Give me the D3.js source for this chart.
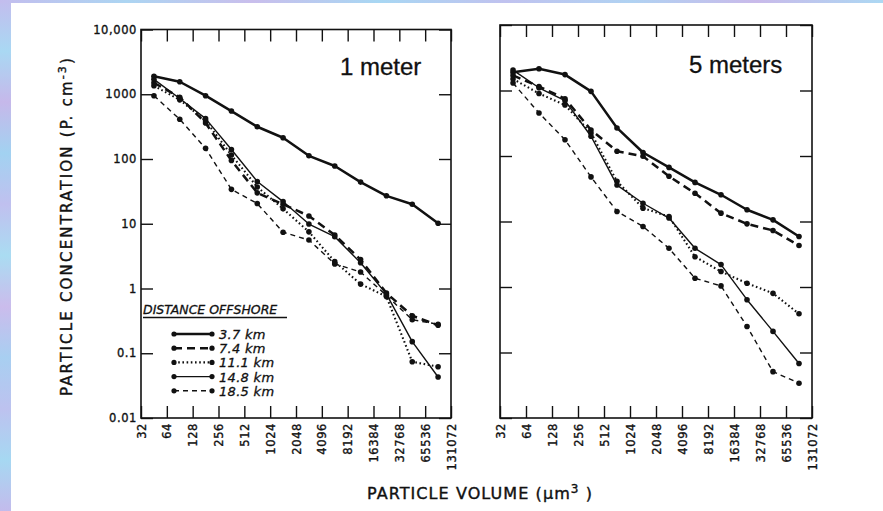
<!DOCTYPE html>
<html>
<head>
<meta charset="utf-8">
<script src="https://cdn.jsdelivr.net/npm/d3@7"></script>
<style>
  html, body { margin: 0; padding: 0; background: #fff; }
  svg { display: block; }
</style>
</head>
<body>
<svg id="chart" width="883" height="511"></svg>
<script>
// Size-class midpoints (µm³) at which concentrations were measured
const volumeBins = [45.3, 90.5, 181, 362, 724, 1448, 2896, 5793, 11585, 23170, 46341, 92682];

// Axis ticks
const volumeTicks = [32, 64, 128, 256, 512, 1024, 2048, 4096, 8192, 16384, 32768, 65536, 131072];
const volumeLabels = ["32", "64", "128", "256", "512", "1024", "2048", "4096", "8192", "16384", "32768", "65536", "131072"];
const concTicks = [0.01, 0.1, 1, 10, 100, 1000, 10000];
const concLabels = ["0.01", "0.1", "1", "10", "100", "1000", "10,000"];

// Stations, by distance offshore
const distances = ["3.7 km", "7.4 km", "11.1 km", "14.8 km", "18.5 km"];

// Particle concentration (P. cm^-3) at 1 meter depth
const oneM_3_7  = [1900, 1560, 950, 550, 315, 213, 112, 78, 44, 27, 20, 10.2];
const oneM_7_4  = [1500, 900, 360, 95, 30, 20, 13.2, 6.7, 2.8, 0.85, 0.38, 0.27];
const oneM_11_1 = [1350, 820, 390, 115, 37, 17, 7.5, 2.6, 1.17, 0.75, 0.074, 0.062];
const oneM_14_8 = [1700, 860, 420, 140, 45, 22, 9.9, 6.3, 2.5, 0.82, 0.151, 0.043];
const oneM_18_5 = [950, 410, 146, 34, 20.5, 7.4, 5.6, 2.4, 1.8, 0.78, 0.33, 0.28];

// Particle concentration (P. cm^-3) at 5 meters depth
const fiveM_3_7  = [1900, 2150, 1750, 970, 268, 113, 67, 39.5, 25.6, 15.1, 10.6, 5.9];
const fiveM_7_4  = [1700, 1150, 750, 250, 118, 99, 49, 27, 13.4, 9.2, 7.3, 4.3];
const fiveM_11_1 = [1500, 900, 600, 225, 41, 16, 11.9, 2.9, 1.72, 1.14, 0.8, 0.39];
const fiveM_14_8 = [2050, 1100, 700, 200, 36, 19, 11.3, 3.9, 2.2, 0.64, 0.21, 0.068];
const fiveM_18_5 = [1300, 454, 177, 48, 14.2, 8.4, 3.9, 1.36, 1.04, 0.25, 0.051, 0.034];

// Line style for each station
const lineStyles = [
  { width: 2.5, dash: null },
  { width: 2.5, dash: "8,5" },
  { width: 2.1, dash: "1.6,2.6" },
  { width: 1.4, dash: null },
  { width: 1.4, dash: "5,4" }
];

const ink = "#111";
const tickFont = "'DejaVu Sans', sans-serif";

const svg = d3.select("#chart");
const defs = svg.append("defs");

// Mottled slide border along the left and top edges
function edgeGradient(id, vertical, stops) {
  const lg = defs.append("linearGradient").attr("id", id)
    .attr("x1", 0).attr("y1", 0).attr("x2", vertical ? 0 : 1).attr("y2", vertical ? 1 : 0);
  stops.forEach((c, i) => lg.append("stop").attr("offset", i / (stops.length - 1)).attr("stop-color", c));
}
edgeGradient("edgeV", true, ["#c3bdee", "#a9d8f3", "#c6b8ea", "#a2d2f1", "#c0c0ef", "#aadcf2", "#cbbcec", "#a8cff1", "#bdc2ef", "#a6d8f2", "#c3bbec"]);
edgeGradient("edgeH", false, ["#c3bdee", "#acd5f2", "#c9beec", "#a8d7f3", "#c0c2ef", "#b0d2f2", "#c9baea", "#acd8f3"]);
svg.append("rect").attr("x", 0).attr("y", 0).attr("width", 883).attr("height", 511).attr("fill", "#fff");
svg.append("rect").attr("x", 0).attr("y", 0).attr("width", 11).attr("height", 511).attr("fill", "url(#edgeV)");
svg.append("rect").attr("x", 0).attr("y", 0).attr("width", 883).attr("height", 3).attr("fill", "url(#edgeH)");

function drawPanel(p) {
  const x = d3.scaleLog().base(2).domain([32, 131072]).range([p.x0, p.x1]);
  const y = d3.scaleLog().domain([0.01, 10000]).range([p.y1, p.y0]);
  const g = svg.append("g");

  const styleAxis = sel => {
    sel.select(".domain").remove();
    sel.selectAll(".tick line").attr("stroke", ink).attr("stroke-width", 1.4);
    sel.selectAll("text").attr("fill", ink).attr("font-family", tickFont)
      .attr("font-size", 11.5).attr("stroke", ink).attr("stroke-width", 0.35)
      .style("letter-spacing", "0.6px");
  };

  const bottom = g.append("g").attr("transform", `translate(0,${p.y1})`)
    .call(d3.axisBottom(x).tickValues(volumeTicks).tickSize(-12).tickSizeOuter(0)
      .tickFormat((d, i) => volumeLabels[i]));
  styleAxis(bottom);
  bottom.selectAll("text")
    .attr("transform", "rotate(-90)")
    .attr("x", -5).attr("y", 0).attr("dy", "0.36em")
    .attr("text-anchor", "end");

  const top = g.append("g").attr("transform", `translate(0,${p.y0})`)
    .call(d3.axisTop(x).tickValues(volumeTicks).tickSize(-12).tickSizeOuter(0).tickFormat(""));
  styleAxis(top);

  const left = g.append("g").attr("transform", `translate(${p.x0},0)`)
    .call(d3.axisLeft(y).tickValues(concTicks).tickSize(-12).tickSizeOuter(0).tickPadding(4)
      .tickFormat((d, i) => p.yLabels ? concLabels[i] : ""));
  styleAxis(left);

  const right = g.append("g").attr("transform", `translate(${p.x1},0)`)
    .call(d3.axisRight(y).tickValues(concTicks).tickSize(-12).tickSizeOuter(0).tickFormat(""));
  styleAxis(right);

  g.append("rect")
    .attr("x", p.x0).attr("y", p.y0)
    .attr("width", p.x1 - p.x0).attr("height", p.y1 - p.y0)
    .attr("fill", "none").attr("stroke", ink).attr("stroke-width", 1.6);

  const line = d3.line().x(d => x(d[0])).y(d => y(d[1]));
  p.series.forEach((vals, si) => {
    const st = lineStyles[si];
    const pts = volumeBins.map((v, i) => [v, vals[i]]);
    g.append("path").datum(pts)
      .attr("d", line)
      .attr("fill", "none").attr("stroke", ink)
      .attr("stroke-width", st.width)
      .attr("stroke-dasharray", st.dash)
      .attr("stroke-linejoin", "round");
    g.selectAll(null).data(pts).enter().append("circle")
      .attr("cx", d => x(d[0])).attr("cy", d => y(d[1]))
      .attr("r", 2.8).attr("fill", ink);
  });

  g.append("text")
    .attr("x", p.titleX).attr("y", p.titleY)
    .attr("font-family", "'Liberation Sans', Arial, sans-serif")
    .attr("font-size", 24).attr("fill", ink)
    .attr("stroke", ink).attr("stroke-width", 0.3)
    .text(p.title);

  return { x, y, g };
}

drawPanel({
  x0: 141, x1: 451, y0: 29.5, y1: 418, yLabels: true,
  series: [oneM_3_7, oneM_7_4, oneM_11_1, oneM_14_8, oneM_18_5],
  title: "1 meter", titleX: 340, titleY: 75
});

drawPanel({
  x0: 500, x1: 812, y0: 25, y1: 418, yLabels: false,
  series: [fiveM_3_7, fiveM_7_4, fiveM_11_1, fiveM_14_8, fiveM_18_5],
  title: "5 meters", titleX: 689, titleY: 73
});

// Legend inside the 1-meter panel
const legend = svg.append("g");
legend.append("text")
  .attr("x", 143).attr("y", 314)
  .attr("font-family", tickFont).attr("font-style", "italic")
  .attr("font-size", 12.5).attr("fill", ink)
  .attr("stroke", ink).attr("stroke-width", 0.3)
  .style("letter-spacing", "0px")
  .text("DISTANCE OFFSHORE");
legend.append("line")
  .attr("x1", 143).attr("x2", 287).attr("y1", 317.5).attr("y2", 317.5)
  .attr("stroke", ink).attr("stroke-width", 1.4);

distances.forEach((label, i) => {
  const cy = 334 + i * 14.2;
  const st = lineStyles[i];
  legend.append("line")
    .attr("x1", 174).attr("x2", 212).attr("y1", cy).attr("y2", cy)
    .attr("stroke", ink).attr("stroke-width", st.width)
    .attr("stroke-dasharray", st.dash);
  [174, 212].forEach(cx => legend.append("circle")
    .attr("cx", cx).attr("cy", cy).attr("r", 2.6).attr("fill", ink));
  legend.append("text")
    .attr("x", 219).attr("y", cy + 5)
    .attr("font-family", tickFont).attr("font-style", "italic")
    .attr("font-size", 13).attr("fill", ink)
    .attr("stroke", ink).attr("stroke-width", 0.3)
    .style("letter-spacing", "0.3px")
    .text(label);
});

// Spread a label's letters so it covers a given length
function fitSpacing(sel, target) {
  const node = sel.node();
  const n = node.getNumberOfChars();
  const len = node.getComputedTextLength();
  sel.style("letter-spacing", ((target - len) / Math.max(1, n - 1)) + "px");
}

// Y axis title
const yTitle = svg.append("text")
  .attr("transform", "translate(72,226) rotate(-90)")
  .attr("text-anchor", "middle")
  .attr("font-family", tickFont).attr("font-size", 15).attr("fill", ink)
  .attr("stroke", ink).attr("stroke-width", 0.4);
yTitle.append("tspan").text("PARTICLE CONCENTRATION  (P. cm");
yTitle.append("tspan").attr("dy", -6).attr("font-size", 11).text("-3");
yTitle.append("tspan").attr("dy", 6).text(")");
fitSpacing(yTitle, 338);

// X axis title
const xTitle = svg.append("text")
  .attr("x", 480).attr("y", 499)
  .attr("text-anchor", "middle")
  .attr("font-family", tickFont).attr("font-size", 16).attr("fill", ink)
  .attr("stroke", ink).attr("stroke-width", 0.4);
xTitle.append("tspan").text("PARTICLE VOLUME (µm");
xTitle.append("tspan").attr("dy", -6).attr("font-size", 12).text("3");
xTitle.append("tspan").attr("dy", 6).text(" )");
fitSpacing(xTitle, 225);
</script>
</body>
</html>
